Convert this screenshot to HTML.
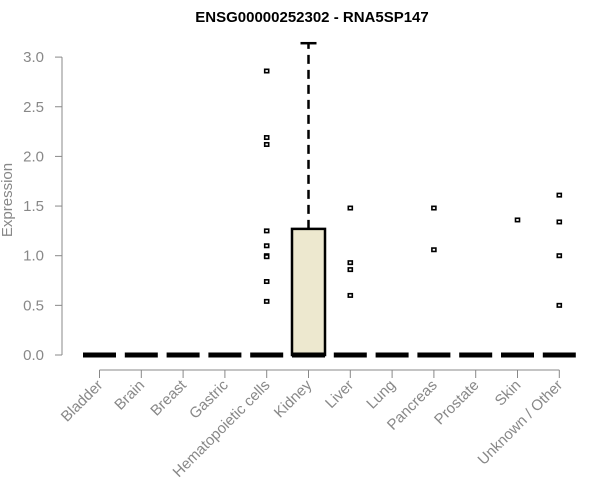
<!DOCTYPE html>
<html><head><meta charset="utf-8"><style>body{margin:0;background:#fff}svg{display:block;font-family:"Liberation Sans",Arial,sans-serif}</style></head>
<body>
<svg id="chart" width="600" height="500">
<text x="312" y="22" text-anchor="middle" font-weight="bold" font-size="15">ENSG00000252302 - RNA5SP147</text>
<text transform="translate(12,200) rotate(-90)" text-anchor="middle" font-size="15" fill="#888">Expression</text>
<g id="axes"></g><g id="marks"></g>
</svg>
<script>
const categories=["Bladder","Brain","Breast","Gastric","Hematopoietic cells","Kidney","Liver","Lung","Pancreas","Prostate","Skin","Unknown / Other"];
const q1=[0,0,0,0,0,0,0,0,0,0,0,0];
const medians=[0,0,0,0,0,0,0,0,0,0,0,0];
const q3=[0,0,0,0,0,1.27,0,0,0,0,0,0];
const whiskerHigh=[0,0,0,0,0,3.14,0,0,0,0,0,0];
const outliers=[[],[],[],[],[2.86,2.19,2.12,1.25,1.10,1.00,0.99,0.74,0.54],[],[1.48,0.93,0.86,0.60],[],[1.48,1.06],[],[1.36],[1.61,1.34,1.00,0.50]];
const yTicks=[0,0.5,1,1.5,2,2.5,3];
const yLabels=["0.0","0.5","1.0","1.5","2.0","2.5","3.0"];
const NS="http://www.w3.org/2000/svg";
const y=v=>355-v*99.3;
const x=i=>99.5+i*41.8;
function mk(p,t,a){const e=document.createElementNS(NS,t);for(const k in a)e.setAttribute(k,a[k]);p.appendChild(e);return e;}
const ax=document.getElementById('axes'),mg=document.getElementById('marks');
let l=mk(ax,'line',{x1:62,x2:62,y1:y(0),y2:y(3),stroke:'#888'});


yTicks.forEach((v,i)=>{
 const t=mk(ax,'line',{x1:55,x2:62,y1:y(v),y2:y(v),stroke:'#888'});
 
 
 const tx=mk(ax,'text',{x:44,y:y(v)+5,'text-anchor':'end','font-size':15,fill:'#888'});
 tx.textContent=yLabels[i];
 
 
});
l=mk(ax,'line',{x1:x(0),x2:x(11),y1:370,y2:370,stroke:'#888'});


categories.forEach((c,i)=>{
 const t=mk(ax,'line',{x1:x(i),x2:x(i),y1:370,y2:378,stroke:'#888'});
 
 
 const tx=mk(ax,'text',{transform:`translate(${x(i)+4},${386}) rotate(-45)`,'text-anchor':'end','font-size':15,fill:'#888'});
 tx.textContent=c;
 
 
 const g=mk(mg,'g',{});
 
 
 const cx=x(i);
 if(whiskerHigh[i]>q3[i]){
  mk(g,'line',{x1:cx,x2:cx,y1:y(q3[i]),y2:y(whiskerHigh[i]),stroke:'#000','stroke-width':2.5,'stroke-dasharray':'9,6'});
  mk(g,'line',{x1:cx-8,x2:cx+8,y1:y(whiskerHigh[i]),y2:y(whiskerHigh[i]),stroke:'#000','stroke-width':2.5});
 }
 if(q3[i]>q1[i]) mk(g,'rect',{x:cx-16.5,y:y(q3[i]),width:33,height:y(q1[i])-y(q3[i]),fill:'#ede8cf',stroke:'#000','stroke-width':2.5});
 mk(g,'line',{x1:cx-16.5,x2:cx+16.5,y1:y(medians[i]),y2:y(medians[i]),stroke:'#000','stroke-width':5});
 outliers[i].forEach(v=>{
  const p=mk(g,'rect',{x:cx-2,y:y(v)-1.7,width:4,height:3.4,fill:'#fff',stroke:'#000','stroke-width':1.6});
  
  
 });
});
</script>
</body></html>
